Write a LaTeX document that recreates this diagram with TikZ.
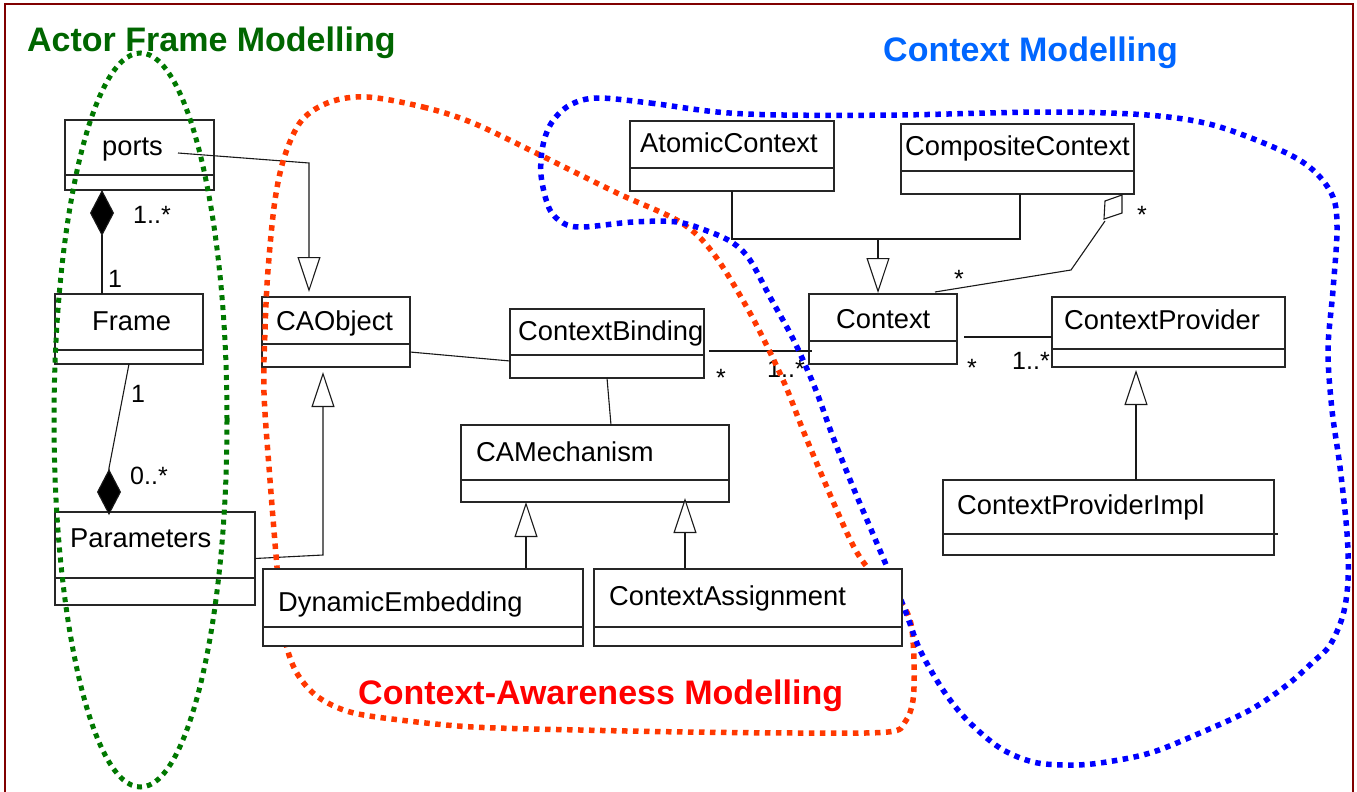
\documentclass[tikz,border=0pt]{standalone}
\usepackage{fontspec}
\setmainfont{Liberation Sans}
\usetikzlibrary{arrows.meta,calc}
\definecolor{framered}{RGB}{128,0,0}
\definecolor{titlegreen}{RGB}{0,102,0}
\definecolor{dotgreen}{RGB}{0,120,0}
\definecolor{titleblue}{RGB}{0,102,255}
\definecolor{dotblue}{RGB}{0,0,255}
\definecolor{titlered}{RGB}{255,0,0}
\definecolor{dotred}{RGB}{255,56,0}
\newcommand\umlclass[9]{% name, style, x1,y1,x2,y2,ydiv,(textpos),text
  \node[umlbox,#2,minimum width={(#5-#3)*1pt},minimum height={(#6-#4)*1pt}] (#1) at (#3,#4) {};
  \draw[boxline] (#3,#7) -- (#5,#7);
  \node[umltext] (#1-t) at #8 {#9};
}
\begin{document}
\begin{tikzpicture}[x=1pt,y=-1pt,
  umlbox/.style={draw=black!85,line width=1.2pt,inner sep=0pt,outer sep=0pt,anchor=north west},
  boxline/.style={draw=black!85,line width=1.2pt},
  plain/.style={},
  whitebox/.style={fill=white},
  umltext/.style={anchor=base west,inner sep=0pt,font=\fontsize{27.3}{30}\selectfont},
  mult/.style={anchor=base west,inner sep=0pt,font=\fontsize{25}{28}\selectfont},
  conn/.style={draw=black!90,line width=1.1pt},
  gen/.style={conn,-{Triangle[open,fill=white,length=35pt,width=23pt]}},
  comp/.style={conn,{Diamond[length=46pt,width=24pt,fill=black]}-},
  title/.style={anchor=base west,inner sep=0pt,font=\fontsize{34}{40}\selectfont\bfseries},
  dotline/.style={line width=5.5pt,dash pattern=on 5.5pt off 5.5pt},
]
\useasboundingbox (0,0) rectangle (1357,792);
\draw[framered,line width=1.5pt] (5,792) -- (5,4) -- (1353,4) -- (1353,792);

% titles
\node[title,text=titlegreen] (tgreen) at (27,52) {Actor Frame Modelling};
\node[title,text=titleblue] (tblue) at (883,62) {Context Modelling};
\node[title,text=titlered] (tred) at (358,704) {Context-Awareness Modelling};

% classes (unfilled)
\umlclass{ports}{plain}{65}{120}{214}{190}{175}{(102,155)}{ports}
\umlclass{Frame}{plain}{55}{294}{203}{364}{350}{(92,330)}{Frame}
\umlclass{CAObject}{plain}{262}{297}{410}{367}{344}{(276,330)}{CAObject}
\umlclass{Parameters}{plain}{55}{512}{255}{605}{578}{(70,547)}{Parameters}
\umlclass{CAMech}{plain}{461}{425}{729}{502}{480}{(476,461)}{CAMechanism}
\umlclass{CBinding}{plain}{510}{309}{704}{378}{355}{(518,340)}{ContextBinding}
\umlclass{Atomic}{plain}{630}{121}{834}{191}{168}{(640,152)}{AtomicContext}
\umlclass{Composite}{plain}{901}{124}{1134}{194}{171}{(905,155)}{CompositeContext}
\umlclass{Context}{plain}{809}{294}{957}{364}{341}{(836,328)}{Context}
\umlclass{CProvider}{plain}{1052}{297}{1285}{367}{349}{(1064,329)}{ContextProvider}
\umlclass{CPImpl}{plain}{943}{480}{1274}{555}{534}{(957,514)}{ContextProviderImpl}
\draw[boxline] (1274,534) -- (1278,534);

% connectors
\draw[gen] (178,153) -- (309,163) -- ([xshift=47pt,yshift=5pt]CAObject.north west);
\draw[comp] ([xshift=37pt]ports.south west) -- ([xshift=47pt]Frame.north west);
\draw[comp] ([xshift=54pt,yshift=-3pt]Parameters.north west) -- ++(0,-47) -- (Frame.south);
\draw[gen] (Parameters.east) -- (323,555) -- ([xshift=61pt,yshift=-5pt]CAObject.south west);
\draw[conn] ([yshift=-20pt]CAObject.east) -- ([yshift=-17.5pt]CBinding.west);
\draw[conn] ([xshift=97pt]CBinding.south west) -- ([xshift=150pt]CAMech.north west);
\draw[conn] ([xshift=5pt,yshift=-7.5pt]CBinding.east) -- ([xshift=3pt,yshift=-22pt]Context.west);
\draw[conn] ([xshift=102pt]Atomic.south west) -- (732,239) -- (1020,239) -- ([xshift=119pt]Composite.south west);
\draw[gen] (878,239) -- ([xshift=69pt,yshift=1pt]Context.north west);
\draw[conn] ([xshift=126pt,yshift=2pt]Context.north west) -- (1071,270) -- (1105,221);
\draw[conn,fill=white] (1104,219) -- (1105,201) -- ([xshift=221pt,yshift=-1pt]Composite.south west) -- (1122,213) -- cycle;
\draw[conn] ([xshift=7pt,yshift=-8pt]Context.east) -- ([yshift=-5pt]CProvider.west);
\draw[gen] ([xshift=193pt]CPImpl.north west) -- ([xshift=84pt,yshift=-3pt]CProvider.south west);
\draw[gen] (526,569) -- ([xshift=65pt]CAMech.south west);
\draw[gen] (685,569) -- ([xshift=224pt,yshift=4pt]CAMech.south west);

% multiplicities
\node[mult] (m1) at (133,223) {1..*};
\node[mult] (m2) at (108,287) {1};
\node[mult] (m3) at (131,402) {1};
\node[mult] (m4) at (130,484) {0..*};
\node[mult] (m5) at (716,386) {*};
\node[mult] (m6) at (767,377) {1..*};
\node[mult] (m7) at (1137,223) {*};
\node[mult] (m8) at (954,287) {*};
\node[mult] (m9) at (967,376) {*};
\node[mult] (m10) at (1012,369) {1..*};

% red outline
\draw[dotline,dotred] plot[smooth cycle,tension=0.55] coordinates {
(367,97) (423,107) (473,123) (540,155) (617,193) (680,222) (713,253) (750,313)
(783,380) (807,440) (847,533) (867,567) (895,595) (910,620) (914,660) (913,700)
(905,722) (888,732) (800,733) (686,732) (580,730) (473,727) (400,720) (350,712)
(318,697) (298,675) (287,648) (281,610) (277,567) (270,480) (264,393) (265,330)
(268,270) (275,200) (285,155) (302,120) (330,102)};

% blue outline
\draw[dotline,dotblue] plot[smooth cycle,tension=0.55] coordinates {
(597,98) (650,103) (717,112) (783,115) (900,115) (1047,112) (1147,115) (1213,125)
(1280,150) (1313,170) (1333,197) (1337,230) (1333,290) (1328,350) (1332,410)
(1340,467) (1347,533) (1348,580) (1343,615) (1330,645) (1313,662) (1287,685)
(1250,710) (1200,733) (1150,753) (1100,763) (1067,765) (1033,762) (1000,748)
(967,720) (943,690) (920,650) (905,610) (887,567) (870,527) (853,487) (833,437)
(817,393) (803,360) (790,333) (770,297) (750,260) (733,243) (710,232) (677,222)
(633,222) (583,227) (563,223) (549,208) (541,175) (543,145) (552,122) (570,105)};

% filled classes on top of outlines
\umlclass{DynEmb}{whitebox}{263}{569}{583}{646}{627}{(278,611)}{DynamicEmbedding}
\umlclass{CAssign}{whitebox}{594}{569}{902}{646}{627}{(609,605)}{ContextAssignment}

% green ellipse
\draw[dotgreen,line width=5pt,dash pattern=on 5pt off 5pt] (140.5,420) ellipse [x radius=86.5pt,y radius=367pt];
\end{tikzpicture}
\end{document}
